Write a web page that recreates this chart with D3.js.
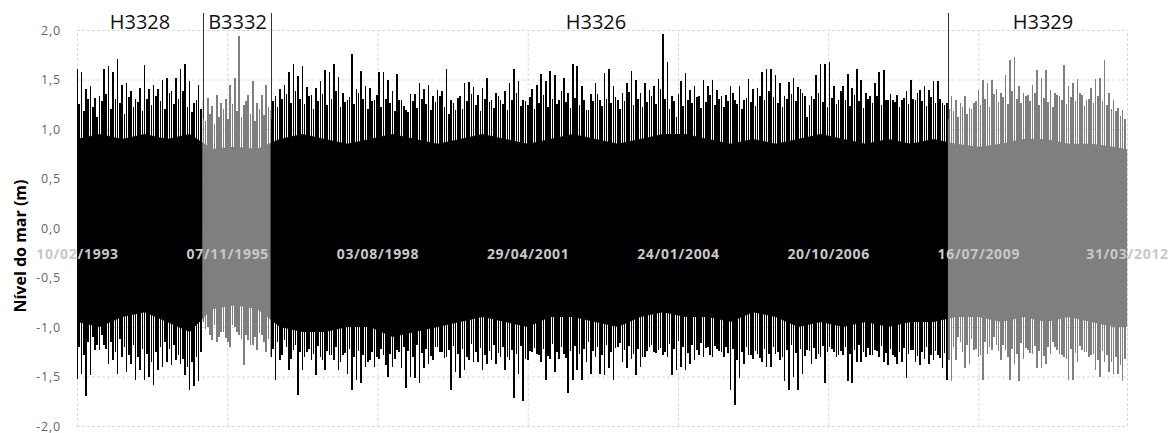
<!DOCTYPE html>
<html>
<head>
<meta charset="utf-8">
<script src="https://cdn.jsdelivr.net/npm/d3@7"></script>
<style>
  body { margin: 0; background: #fff; }
  svg { display: block; font-family: "Open Sans", "DejaVu Sans", sans-serif; }
</style>
</head>
<body>
<svg id="chart" width="1170" height="433"></svg>
<script>
// tide gauge record: a main envelope sample every 30 days from the first date,
// and an in-between sample 15 days later
var sampleStart = "1993-02-10",
    sampleStepDays = 30;

// stations (consecutive periods)
var stations = ["H3328", "B3332", "H3326", "H3329"];
var stationStart = ["1993-02-10", "1995-05-28", "1996-08-22", "2008-12-25"];
var stationEnd = ["1995-05-28", "1996-08-22", "2008-12-25", "2012-04-01"];
var stationColor = ["#000000", "#7f7f7f", "#000000", "#7f7f7f"];

// highest / lowest level in each 30-day sample (m)
var highH3328 = [1.61,1.58,1.40,1.43,1.31,1.33,1.61,1.64,1.58,1.71,1.44,1.46,1.38,1.30,1.41,1.65,1.40,1.44,1.40,1.50,1.52,1.38,1.52,1.61,1.66,1.48,1.26,1.44];
var lowH3328 = [-1.53,-1.47,-1.70,-1.48,-1.23,-1.23,-1.18,-1.37,-1.33,-1.47,-1.30,-1.45,-1.37,-1.54,-1.43,-1.54,-1.50,-1.59,-1.43,-1.40,-1.35,-1.38,-1.33,-1.37,-1.48,-1.64,-1.60,-1.55];
var midHighH3328 = [1.25,1.18,1.30,1.22,1.12,1.28,1.35,1.20,1.30,1.26,1.15,1.32,1.22,1.27,1.18,1.30,1.24,1.33,1.28,1.20,1.36,1.25,1.30,1.38,1.22,1.17,1.29,1.20];
var midLowH3328 = [-1.20,-1.28,-1.15,-1.10,-1.18,-1.08,-1.22,-1.15,-1.25,-1.12,-1.20,-1.28,-1.18,-1.30,-1.22,-1.27,-1.35,-1.25,-1.20,-1.15,-1.22,-1.18,-1.28,-1.32,-1.40,-1.35,-1.30,-1.25];

var highB3332 = [1.29,1.31,1.23,1.34,1.26,1.30,1.44,1.52,1.94,1.24,1.34,1.48,1.26,1.34,1.44];
var lowB3332 = [-0.95,-1.00,-1.13,-1.15,-1.05,-1.11,-1.20,-1.00,-1.08,-1.38,-1.13,-1.18,-1.23,-1.08,-1.25];
var midHighB3332 = [1.08,1.15,1.05,1.12,1.20,1.10,1.25,1.18,1.12,1.28,1.15,1.08,1.20,1.14,1.22];
var midLowB3332 = [-1.02,-1.08,-0.98,-1.10,-1.05,-1.15,-0.98,-1.05,-1.12,-1.08,-1.18,-1.10,-1.06,-1.15,-1.12];

var highH3326 = [1.19,1.33,1.40,1.44,1.58,1.66,1.54,1.64,1.42,1.34,1.41,1.48,1.60,1.58,1.66,1.53,1.36,1.29,1.76,1.40,1.59,1.43,1.41,1.29,1.58,1.58,1.49,1.38,1.56,
    1.29,1.19,1.35,1.35,1.46,1.40,1.44,1.33,1.39,1.38,1.61,1.29,1.19,1.33,1.46,1.47,1.42,1.34,1.41,1.52,
    1.29,1.36,1.29,1.38,1.46,1.61,1.48,1.29,1.24,1.40,1.44,1.56,1.48,1.59,1.55,1.29,1.52,1.36,1.66,1.64,
    1.43,1.19,1.35,1.46,1.29,1.57,1.61,1.43,1.29,1.36,1.46,1.59,1.49,1.36,1.46,1.39,1.43,1.51,1.96,1.68,
    1.33,1.12,1.48,1.57,1.39,1.43,1.33,1.50,1.43,1.49,1.39,1.33,1.34,1.43,1.29,1.43,1.29,1.51,1.40,1.41,
    1.58,1.61,1.61,1.55,1.46,
    1.33,1.47,1.52,1.42,1.36,1.12,1.33,1.55,1.66,1.66,1.68,1.43,1.29,1.43,1.56,1.41,1.61,1.49,1.36,1.33,
    1.46,1.58,1.60,1.29,1.29,1.34,1.29,1.38,1.50,1.29,1.39,1.43,1.39,1.48,1.48,1.26,1.26];
var lowH3326 = [-1.30,-1.54,-1.33,-1.13,-1.43,-1.23,-1.69,-1.43,-1.25,-1.33,-1.48,-1.30,-1.43,-1.28,-1.33,-1.43,-1.28,-1.47,-1.64,-1.54,-1.57,-1.40,-1.33,-1.40,-1.32,-1.28,-1.50,-1.40,-1.23,
    -1.41,-1.62,-1.50,-1.52,-1.57,-1.41,-1.37,-1.33,-1.20,-1.25,-1.30,-1.64,-1.45,-1.52,-1.43,-1.33,-1.35,-1.35,-1.43,-1.37,
    -1.33,-1.37,-1.30,-1.43,-1.33,-1.72,-1.47,-1.75,-1.33,-1.25,-1.27,-1.35,-1.54,-1.32,-1.45,-1.32,-1.27,-1.67,-1.54,-1.43,
    -1.54,-1.35,-1.47,-1.30,-1.47,-1.48,-1.41,-1.54,-1.20,-1.35,-1.41,-1.32,-1.48,-1.40,-1.30,-1.20,-1.25,-1.23,-1.28,-1.30,
    -1.48,-1.43,-1.40,-1.43,-1.37,-1.33,-1.28,-1.30,-1.20,-1.30,-1.22,-1.25,-1.20,-1.64,-1.79,-1.52,-1.37,-1.28,-1.32,-1.27,
    -1.35,-1.40,-1.40,-1.27,-1.33,
    -1.55,-1.64,-1.50,-1.64,-1.47,-1.23,-1.37,-1.32,-1.30,-1.57,-1.20,-1.25,-1.28,-1.28,-1.55,-1.57,-1.35,-1.35,-1.30,-1.28,
    -1.23,-1.30,-1.35,-1.38,-1.28,-1.37,-1.35,-1.52,-1.23,-1.35,-1.38,-1.32,-1.37,-1.33,-1.28,-1.41,-1.54];
var midHighH3326 = [1.28,1.22,1.30,1.35,1.26,1.38,1.30,1.25,1.33,1.20,1.28,1.35,1.24,1.30,1.38,1.22,1.27,1.32,1.25,1.36,
    1.30,1.20,1.28,1.34,1.22,1.30,1.26,1.18,1.29,1.23,1.17,1.28,1.21,1.30,1.25,1.19,1.27,1.33,1.22,1.15,
    1.26,1.31,1.20,1.28,1.35,1.24,1.18,1.30,1.27,1.21,1.33,1.25,1.19,1.29,1.36,1.23,1.28,1.32,1.20,1.26,
    1.34,1.22,1.30,1.25,1.38,1.27,1.21,1.31,1.24,1.29,1.19,1.28,1.35,1.23,1.30,1.26,1.32,1.20,1.28,1.37,
    1.24,1.30,1.22,1.27,1.33,1.25,1.40,1.30,1.20,1.28,1.35,1.23,1.29,1.26,1.32,1.21,1.27,1.34,1.24,1.30,
    1.22,1.28,1.36,1.25,1.20,1.31,1.27,1.23,1.33,1.29,1.38,1.32,1.26,1.22,1.30,1.35,1.28,1.40,1.33,1.24,
    1.30,1.36,1.27,1.22,1.31,1.25,1.38,1.29,1.23,1.34,1.28,1.21,1.30,1.26,1.33,1.24,1.29,1.35,1.27,1.22,
    1.31,1.25,1.30,1.36,1.28,1.23,1.32,1.26,1.30,1.24,1.20];
var midLowH3326 = [-1.22,-1.15,-1.28,-1.20,-1.32,-1.18,-1.25,-1.30,-1.22,-1.27,-1.19,-1.33,-1.24,-1.28,-1.20,-1.35,-1.26,-1.22,-1.30,-1.24,
    -1.28,-1.35,-1.25,-1.30,-1.22,-1.38,-1.27,-1.32,-1.25,-1.20,-1.24,-1.30,-1.18,-1.26,-1.22,-1.29,-1.20,-1.25,-1.31,-1.23,
    -1.19,-1.27,-1.22,-1.30,-1.17,-1.25,-1.21,-1.28,-1.24,-1.18,-1.26,-1.20,-1.30,-1.23,-1.27,-1.19,-1.32,-1.24,-1.21,-1.28,
    -1.22,-1.29,-1.17,-1.25,-1.20,-1.31,-1.24,-1.19,-1.27,-1.22,-1.15,-1.24,-1.20,-1.28,-1.18,-1.25,-1.21,-1.16,-1.23,-1.19,
    -1.27,-1.22,-1.30,-1.24,-1.18,-1.26,-1.21,-1.25,-1.17,-1.22,-1.14,-1.20,-1.26,-1.18,-1.23,-1.16,-1.21,-1.28,-1.19,-1.24,
    -1.30,-1.26,-1.22,-1.33,-1.25,-1.20,-1.28,-1.24,-1.31,-1.22,-1.27,-1.20,-1.25,-1.30,-1.23,-1.18,-1.26,-1.22,-1.29,-1.24,
    -1.21,-1.27,-1.19,-1.25,-1.22,-1.30,-1.24,-1.20,-1.27,-1.23,-1.18,-1.25,-1.21,-1.28,-1.24,-1.19,-1.26,-1.22,-1.30,-1.25,
    -1.21,-1.27,-1.23,-1.29,-1.25,-1.20,-1.28,-1.24,-1.31,-1.26,-1.33];

var highH3329 = [1.33,1.29,1.26,1.33,1.21,1.26,1.39,1.49,1.46,1.49,1.40,1.36,1.55,1.70,1.73,1.43,1.36,1.34,1.44,1.60,
    1.52,1.60,1.39,1.36,1.33,1.65,1.43,1.46,1.51,1.34,1.29,1.41,1.51,1.52,1.70,1.36,1.29,1.21,1.19,1.22];
var lowH3329 = [-1.55,-1.33,-1.15,-1.41,-1.37,-1.23,-1.30,-1.54,-1.27,-1.23,-1.18,-1.33,-1.23,-1.54,-1.37,-1.55,-1.32,-1.23,-1.27,-1.41,
    -1.41,-1.37,-1.27,-1.20,-1.27,-1.30,-1.54,-1.54,-1.35,-1.23,-1.25,-1.28,-1.43,-1.50,-1.35,-1.45,-1.47,-1.47,-1.55,-1.62];
var midHighH3329 = [1.18,1.12,1.22,1.15,1.20,1.28,1.24,1.30,1.22,1.35,1.27,1.32,1.25,1.38,1.30,1.26,1.33,1.28,1.36,1.24,
    1.31,1.27,1.22,1.34,1.29,1.25,1.32,1.28,1.36,1.23,1.30,1.26,1.33,1.28,1.24,1.20,1.18,1.13,1.10,1.05];
var midLowH3329 = [-1.20,-1.10,-1.25,-1.18,-1.12,-1.22,-1.28,-1.15,-1.20,-1.10,-1.24,-1.18,-1.30,-1.22,-1.27,-1.16,-1.21,-1.26,-1.19,-1.24,
    -1.29,-1.20,-1.15,-1.23,-1.28,-1.32,-1.22,-1.26,-1.19,-1.25,-1.30,-1.27,-1.33,-1.24,-1.28,-1.35,-1.30,-1.38,-1.32,-1.40];

// dense part of the tidal band, one value every 150 days
var coreStepDays = 150;
var coreHigh = [0.90,0.95,0.90,0.95,0.90,0.95, 0.80,0.82,0.80,
    0.90,0.95,0.90,0.85,0.90,0.95,0.90,0.85,0.90,0.95,0.90,0.85,0.90,0.95,0.90,0.85,0.90,0.95,0.95,0.90,0.85,0.90,0.85,0.90,0.95,0.90,0.85,0.90,0.85,0.90,
    0.85,0.82,0.85,0.90,0.90,0.85,0.85,0.82,0.78];
var coreLow = [-0.95,-1.00,-0.90,-0.85,-0.95,-1.05, -0.82,-0.78,-0.82,
    -1.00,-1.05,-1.05,-1.00,-1.00,-1.10,-1.05,-1.00,-0.95,-0.90,-0.95,-1.00,-0.90,-0.90,-0.95,-1.00,-0.90,-0.85,-0.90,-0.90,-0.95,-0.85,-0.90,-1.00,-0.95,-1.00,-0.95,-1.00,-0.95,-0.95,
    -0.90,-0.90,-0.95,-0.90,-0.95,-0.90,-0.95,-1.00,-1.00];

// axes
var xTickDates = ["1993-02-10", "1995-11-07", "1998-08-03", "2001-04-29", "2004-01-24", "2006-10-20", "2009-07-16", "2012-03-31"];
var yTicks = [-2.0, -1.5, -1.0, -0.5, 0.0, 0.5, 1.0, 1.5, 2.0];
var yTitle = "Nível do mar (m)";

var parse = d3.timeParse("%Y-%m-%d");

function buildSamples() {
    /* Join the station arrays into one list of {date, high, low}. */
    var highs = highH3328.concat(highB3332, highH3326, highH3329),
        lows = lowH3328.concat(lowB3332, lowH3326, lowH3329),
        midHighs = midHighH3328.concat(midHighB3332, midHighH3326, midHighH3329),
        midLows = midLowH3328.concat(midLowB3332, midLowH3326, midLowH3329),
        start = parse(sampleStart),
        samples = [];
    for (var i = 0; i < highs.length; i++) {
        samples.push({
            date: d3.timeDay.offset(start, i * sampleStepDays),
            high: highs[i],
            low: lows[i]
        });
        samples.push({
            date: d3.timeDay.offset(start, i * sampleStepDays + sampleStepDays / 2),
            high: midHighs[i],
            low: midLows[i]
        });
    }
    return samples;
}

function buildCore() {
    var start = parse(sampleStart);
    return coreHigh.map(function(h, i) {
        return { date: d3.timeDay.offset(start, i * coreStepDays), high: h, low: coreLow[i] };
    });
}

function draw() {
    var svg = d3.select("#chart"),
        left = 77, right = 1127, top = 30, bottom = 426,
        samples = buildSamples(),
        core = buildCore(),
        tickDates = xTickDates.map(parse);

    var x = d3.scaleTime()
        .domain([tickDates[0], tickDates[tickDates.length - 1]])
        .range([left, right]);
    var y = d3.scaleLinear().domain([-2, 2]).range([bottom, top]);

    var pt = d3.formatLocale({ decimal: ",", thousands: ".", grouping: [3], currency: ["", ""], minus: "-" });
    var fmtY = pt.format(".1f");

    // gridlines
    svg.append("g")
        .attr("class", "grid")
        .attr("transform", "translate(" + left + ",0)")
        .call(d3.axisLeft(y).tickValues(yTicks).tickSize(-(right - left)).tickFormat(""))
        .call(function(g) { g.select(".domain").remove(); });
    svg.append("g")
        .attr("class", "grid")
        .attr("transform", "translate(0," + bottom + ")")
        .call(d3.axisBottom(x).tickValues(tickDates).tickSize(-(bottom - top)).tickFormat(""))
        .call(function(g) { g.select(".domain").remove(); });
    svg.selectAll(".grid line")
        .attr("stroke", "#d9d9d9")
        .attr("stroke-dasharray", "3,2");

    // one group per station, clipped to its period
    var defs = svg.append("defs");
    var area = d3.area()
        .x(function(d) { return x(d.date); })
        .y0(function(d) { return y(d.low); })
        .y1(function(d) { return y(d.high); });

    stations.forEach(function(name, s) {
        var t0 = parse(stationStart[s]), t1 = parse(stationEnd[s]);
        defs.append("clipPath").attr("id", "clip" + s)
            .append("rect")
            .attr("x", x(t0)).attr("y", 0)
            .attr("width", x(t1) - x(t0)).attr("height", 433);

        var g = svg.append("g").attr("clip-path", "url(#clip" + s + ")");
        g.append("path")
            .datum(core)
            .attr("d", area)
            .attr("fill", stationColor[s]);

        g.selectAll("line")
            .data(samples.filter(function(d) { return d.date >= t0 && d.date < t1; }))
            .enter()
            .append("line")
            .attr("x1", function(d) { return x(d.date); })
            .attr("x2", function(d) { return x(d.date); })
            .attr("y1", function(d) { return y(d.low); })
            .attr("y2", function(d) { return y(d.high); })
            .attr("stroke", stationColor[s])
            .attr("stroke-width", 1.6)
            .attr("shape-rendering", "crispEdges");
    });

    // station separators and names
    for (var s = 1; s < stations.length; s++) {
        var bx = Math.round(x(parse(stationStart[s]))) + 0.5;
        svg.append("line")
            .attr("x1", bx).attr("x2", bx)
            .attr("y1", 13).attr("y2", y(1.1))
            .attr("stroke", "#333").attr("stroke-width", 1);
    }
    var labelX = [140, 237.5, 596, 1043];
    stations.forEach(function(name, s) {
        svg.append("text")
            .attr("x", labelX[s]).attr("y", 29)
            .attr("text-anchor", "middle")
            .attr("font-size", 20)
            .attr("fill", "#111")
            .text(name);
    });

    // y axis
    var yAxis = svg.append("g")
        .attr("transform", "translate(" + left + ",0)")
        .call(d3.axisLeft(y).tickValues(yTicks).tickSize(0).tickPadding(16).tickFormat(fmtY));
    yAxis.select(".domain").remove();
    yAxis.selectAll("text")
        .attr("font-family", "'Open Sans', sans-serif")
        .attr("font-size", 12.5)
        .attr("letter-spacing", 0.8)
        .attr("fill", "#666");

    // date labels sit on the zero line, on top of the data
    var xAxis = svg.append("g")
        .attr("transform", "translate(0," + y(0) + ")")
        .call(d3.axisBottom(x).tickValues(tickDates).tickSize(0).tickPadding(21).tickFormat(d3.timeFormat("%d/%m/%Y")));
    xAxis.select(".domain").remove();
    xAxis.selectAll("text")
        .attr("font-family", "'Open Sans', sans-serif")
        .attr("font-size", 14)
        .attr("font-weight", "bold")
        .attr("letter-spacing", 0.7)
        .attr("fill", "#c8c8c8");

    svg.append("text")
        .attr("transform", "translate(22," + 246 + ") rotate(-90)")
        .attr("text-anchor", "middle")
        .attr("dominant-baseline", "middle")
        .attr("font-size", 16)
        .attr("font-weight", "bold")
        .attr("fill", "#000")
        .text(yTitle);
}

draw();
</script>
</body>
</html>
